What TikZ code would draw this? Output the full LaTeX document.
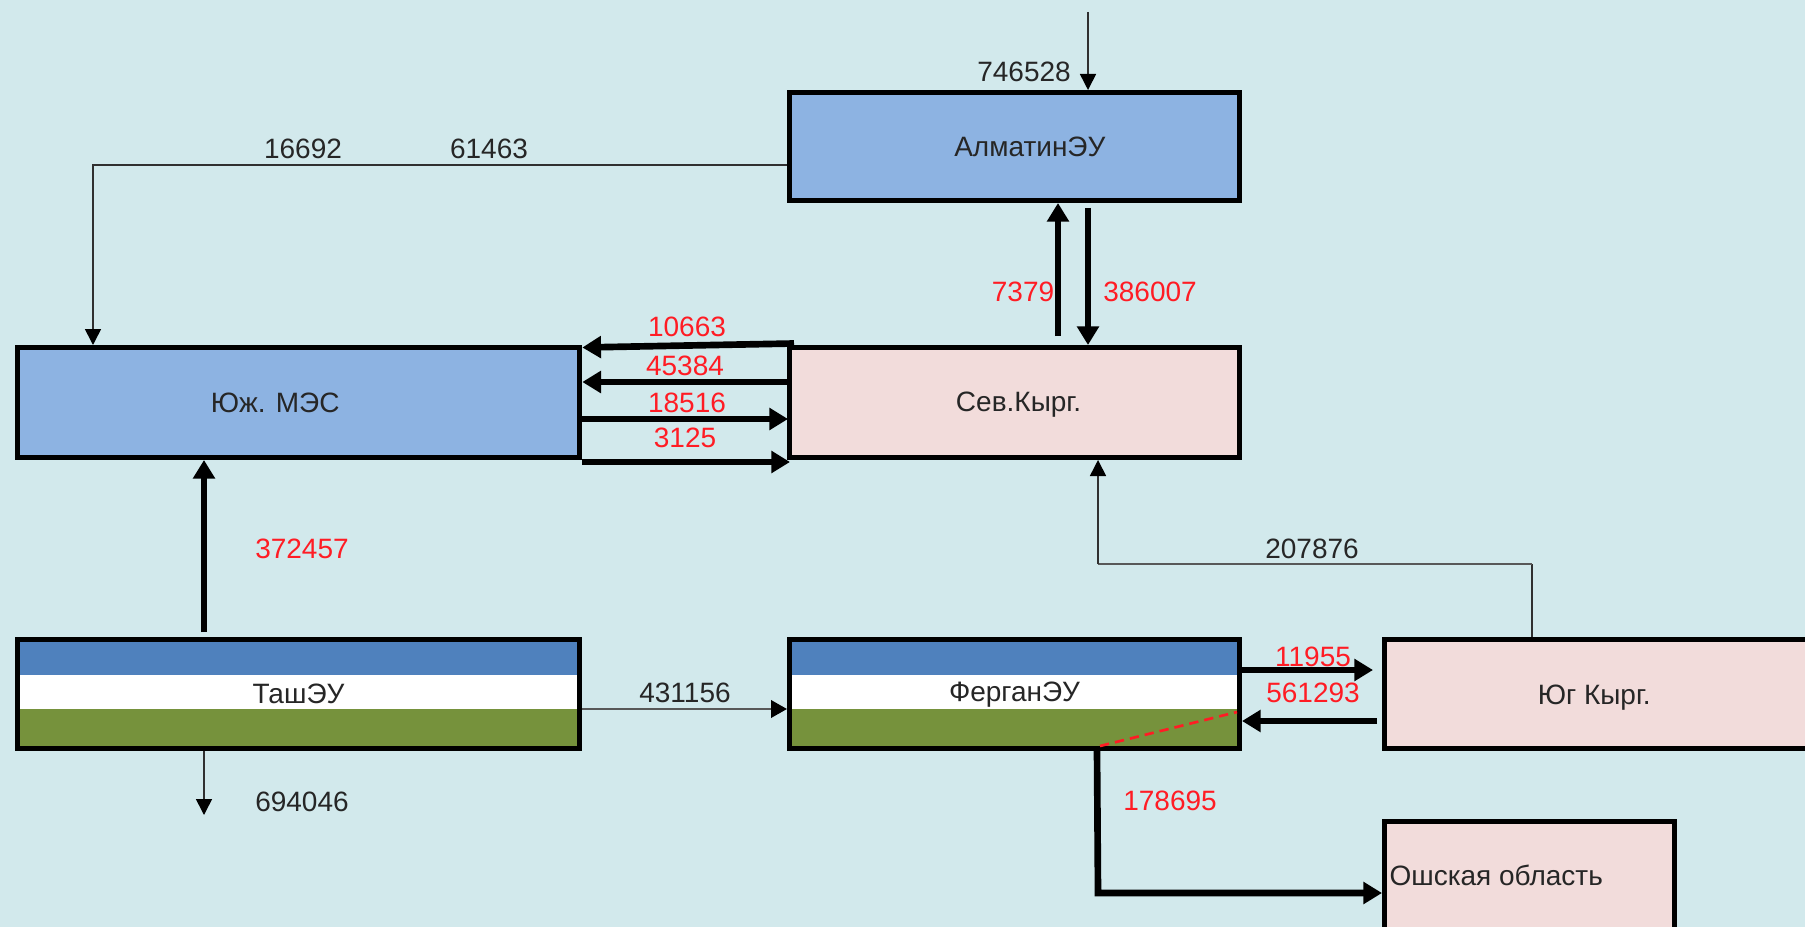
\documentclass[tikz,border=0pt]{standalone}
\usepackage{fontspec}
\setmainfont{Liberation Sans}
\usetikzlibrary{arrows.meta,calc}
\definecolor{bgc}{HTML}{D2E9EC}
\definecolor{blueb}{HTML}{8DB3E2}
\definecolor{pinkb}{HTML}{F2DCDB}
\definecolor{bandblue}{HTML}{4F81BD}
\definecolor{bandgreen}{HTML}{76923C}
\definecolor{redt}{HTML}{FF1C24}
\definecolor{thinl}{HTML}{303030}
\definecolor{greyl}{HTML}{585858}
\tikzset{
  box/.style={draw=black,line width=3.75pt,inner sep=0pt,text=black!85,
    font=\fontsize{21}{24}\selectfont},
  almbox/.style={box,fill=blueb},
  kyrbox/.style={box,fill=pinkb},
  flagbox/.style={box,fill=white,path picture={
    \fill[bandblue] (path picture bounding box.north west) rectangle
      ($(path picture bounding box.north east)!0.325!(path picture bounding box.south east)$);
    \fill[bandgreen] ($(path picture bounding box.north west)!0.637!(path picture bounding box.south west)$)
      rectangle (path picture bounding box.south east);}},
  blackval/.style={inner sep=0pt,text=black!85,font=\fontsize{21}{24}\selectfont},
  redval/.style={inner sep=0pt,text=redt,font=\fontsize{21}{24}\selectfont},
  thinarrow/.style={line width=1.2pt,draw=thinl,-{Triangle[length=12pt,width=12pt,color=black]}},
  thinline/.style={line width=1.2pt,draw=thinl},
  greyline/.style={line width=2pt,draw=greyl},
  greyarrow/.style={line width=2pt,draw=greyl,-{Triangle[length=12pt,width=13pt,color=black]}},
  thickarrow/.style={line width=5pt,draw=black,-{Triangle[length=14pt,width=16pt]}},
  reddash/.style={line width=2pt,draw=redt,dash pattern=on 7pt off 4.5pt},
}
\begin{document}
\begin{tikzpicture}[x=0.75pt,y=-0.75pt]
\useasboundingbox (0,0) rectangle (1805,927);
\clip (0,0) rectangle (1805,927);
\fill[bgc] (0,0) rectangle (1805,927);
% boxes
\node[almbox,minimum width=337.5pt,minimum height=81pt] (alm) at (1014.5,146.5) {\hspace*{23pt}АлматинЭУ};
\node[kyrbox,minimum width=337.5pt,minimum height=82.5pt] (sev) at (1014.5,402.5) {\hspace*{6pt}\raisebox{-1.5pt}[\height][\depth]{Сев.Кырг.}};
\node[almbox,minimum width=422pt,minimum height=82.5pt] (yuzh) at (298.5,402.5) {Юж. МЭС\hspace*{35pt}};
\node[flagbox,minimum width=422pt,minimum height=81.5pt] (tash) at (298.5,694) {ТашЭУ};
\node[flagbox,minimum width=337.5pt,minimum height=81.5pt] (ferg) at (1014.5,694) {\raisebox{-0.75pt}[\height][\depth]{ФерганЭУ}};
\node[kyrbox,minimum width=412.5pt,minimum height=81.5pt] (yug) at (1659.5,694) {\raisebox{-2.5pt}[\height][\depth]{Юг Кырг.}\hspace*{98pt}};
\node[kyrbox,minimum width=217.5pt,minimum height=120pt] (osh) at (1529.5,901.5) {\raisebox{40pt}{Ошская область}\hspace*{50pt}};
% free ends
\coordinate (topin) at (1088,12);
\coordinate (tashout) at (204,815);
\coordinate (alleft) at (93,165);
\coordinate (yugup) at (1532,564);
\coordinate (bendup) at (1098,564);
\coordinate (oshbend) at (1098,893);
\coordinate (xa) at (1058,0);
\coordinate (xb) at (1088,0);
\coordinate (xt) at (204,0);
\coordinate (fs) at (1097,0);
\coordinate (ya1) at (0,336);
\coordinate (yb1) at (0,208);
\coordinate (yt1) at (0,632);
\coordinate (h45) at (0,382);
\coordinate (h18) at (0,419);
\coordinate (h31) at (0,462);
\coordinate (h43) at (0,709);
\coordinate (h11) at (0,670);
\coordinate (h56) at (0,721);
\coordinate (e11) at (1373,670);
\coordinate (s56) at (1377,721);
\coordinate (rd1) at (1100,746);
\coordinate (rd2) at (1237,712);
% connectors
\draw[thinarrow] (topin) -- (topin |- alm.north);
\draw[thinarrow] (alm.west |- alleft) -- (alleft) -- (alleft |- yuzh.north);
\draw[thickarrow] (xa |- ya1) -- (xa |- alm.south);
\draw[thickarrow] (xb |- yb1) -- (xb |- sev.north);
\draw[thickarrow] ($(sev.west)+(7,-59)$) -- ($(yuzh.east)+(0,-55)$);
\draw[thickarrow] (sev.west |- h45) -- (yuzh.east |- h45);
\draw[thickarrow] (yuzh.east |- h18) -- ($(sev.west |- h18)+(1,0)$);
\draw[thickarrow] (yuzh.east |- h31) -- ($(sev.west |- h31)+(3,0)$);
\draw[thickarrow] (xt |- yt1) -- (xt |- yuzh.south);
\draw[thinarrow] (xt |- tash.south) -- (tashout);
\draw[greyarrow] (tash.east |- h43) -- (ferg.west |- h43);
\draw[thinline] (yugup |- yug.north) -- (yugup);
\draw[greyline] (yugup) -- (bendup);
\draw[thinarrow] (bendup) -- (bendup |- sev.south);
\draw[thickarrow] (ferg.east |- h11) -- (e11);
\draw[thickarrow] (s56) -- (ferg.east |- h56);
\draw[reddash] (rd1) -- (rd2);
\draw[thickarrow,line join=miter] (fs |- ferg.south) -- (oshbend) -- (osh.west |- oshbend);
% labels
\node[blackval] (l746) at (1024,72) {746528};
\node[blackval] (l166) at (303,148.5) {16692};
\node[blackval] (l614) at (489,148.5) {61463};
\node[redval] (l737) at (1023,292) {7379};
\node[redval] (l386) at (1150,292) {386007};
\node[redval] (l106) at (687,327) {10663};
\node[redval] (l453) at (685,366) {45384};
\node[redval] (l185) at (687,403) {18516};
\node[redval] (l312) at (685,438) {3125};
\node[redval] (l372) at (302,549) {372457};
\node[blackval] (l207) at (1312,549) {207876};
\node[blackval] (l431) at (685,693) {431156};
\node[blackval] (l694) at (302,802) {694046};
\node[redval] (l119) at (1313,657) {11955};
\node[redval] (l561) at (1313,693) {561293};
\node[redval] (l178) at (1170,801) {178695};
\end{tikzpicture}
\end{document}
